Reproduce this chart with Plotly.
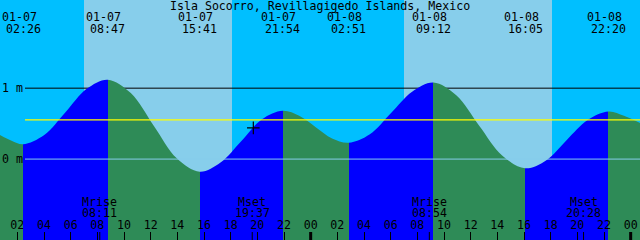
import plotly.graph_objects as go

# ---------------- data ----------------
title_text = "Isla Socorro, Revillagigedo Islands, Mexico"

# tide curve samples (hours since 01-07 00:00, metres)
tide_hours = [0.70, 1.57, 2.43, 4.02, 5.61, 7.20, 8.78, 10.51, 12.23, 13.96, 15.68,
              17.24, 18.79, 20.35, 21.90, 23.14, 24.38, 25.61, 26.85, 28.44, 30.03,
              31.61, 33.20, 34.92, 36.64, 38.36, 40.08, 41.65, 43.21, 44.77, 46.33,
              47.50, 48.70]
tide_levels = [0.34, 0.26, 0.21, 0.34, 0.66, 0.99, 1.12, 0.93, 0.47, 0.01, -0.18,
               -0.05, 0.25, 0.56, 0.68, 0.61, 0.45, 0.29, 0.23, 0.35, 0.65,
               0.95, 1.08, 0.90, 0.47, 0.05, -0.13, -0.02, 0.27, 0.55, 0.67,
               0.61, 0.51]

# high / low events
event_days = [0, 0, 0, 0, 1, 1, 1, 1]
event_dates = ["01-07", "01-07", "01-07", "01-07", "01-08", "01-08", "01-08", "01-08"]
event_times = ["02:26", "08:47", "15:41", "21:54", "02:51", "09:12", "16:05", "22:20"]
event_kind = ["low", "high", "low", "high", "low", "high", "low", "high"]

# moon rise / set
moon_days = [0, 0, 1, 1]
moon_names = ["Mrise", "Mset", "Mrise", "Mset"]
moon_times = ["08:11", "19:37", "08:54", "20:28"]

# daylight (hours since 01-07 00:00)
sunrise_hours = [7.0, 31.0]
sunset_hours = [18.1, 42.1]

# reference levels
level_lines = [1.0, 0.0]
level_labels = ["1 m", "0 m"]
mean_level = 0.553

# current time marker
now_hours = [19.70]
now_level = [0.44]

# axis ticks
tick_hours = list(range(2, 49, 2))
tick_labels = ["02", "04", "06", "08", "10", "12", "14", "16", "18", "20", "22", "00",
               "02", "04", "06", "08", "10", "12", "14", "16", "18", "20", "22", "00"]
midnight_hours = [24, 48]

# ---------------- styling ----------------
W, H = 640, 240
X0, X1 = 0.7, 48.7
Y0, Y1 = -1.141, 2.243
FONT = "DejaVu Sans Mono"
FS = 11.6
NIGHT = "#00BFFF"
DAY = "#87CEEB"
FLOOD = "#0000FF"
EBB = "#2E8B57"


def to_h(day, hhmm):
    h, m = hhmm.split(":")
    return 24 * day + int(h) + int(m) / 60.0


def py(ypx):
    return 1 - ypx / H


ev_h = [to_h(d, t) for d, t in zip(event_days, event_times)]
moon_h = [to_h(d, t) for d, t in zip(moon_days, moon_times)]

# horizontal colour stops: blue while rising, green while falling
bounds = [X0] + ev_h + [X1]
cs = []
for i in range(len(bounds) - 1):
    if i < len(event_kind):
        col = FLOOD if event_kind[i] == "high" else EBB
    else:
        col = FLOOD if event_kind[-1] == "low" else EBB
    a = (bounds[i] - X0) / (X1 - X0)
    b = (bounds[i + 1] - X0) / (X1 - X0)
    cs.append([max(0.0, min(1.0, a)), col])
    cs.append([max(0.0, min(1.0, b)), col])
cs[0][0] = 0.0
cs[-1][0] = 1.0

fig = go.Figure()
fig.add_trace(go.Scatter(x=[X0 - 1, X1 + 1], y=[Y0 - 1, Y0 - 1], mode="lines",
                         line=dict(width=0), hoverinfo="skip", showlegend=False))
fig.add_trace(go.Scatter(x=tide_hours, y=tide_levels, mode="lines",
                         line=dict(width=0, shape="spline", smoothing=1),
                         fill="tonexty",
                         fillgradient=dict(type="horizontal", start=X0, stop=X1,
                                           colorscale=cs),
                         hoverinfo="skip", showlegend=False))
fig.add_trace(go.Scatter(x=now_hours, y=now_level, mode="markers",
                         marker=dict(symbol="cross-thin", size=9,
                                     line=dict(width=1.2, color="black")),
                         hoverinfo="skip", showlegend=False))

shapes = []
for a, b in zip(sunrise_hours, sunset_hours):
    shapes.append(dict(type="rect", xref="x", yref="paper", x0=a, x1=b, y0=0, y1=1,
                       fillcolor=DAY, line=dict(width=0), layer="below"))
line_x0 = X0 + 25 / (W / (X1 - X0))
shapes.append(dict(type="line", xref="x", yref="y", x0=line_x0, x1=X1,
                   y0=level_lines[0], y1=level_lines[0],
                   line=dict(color="black", width=1), layer="below"))
shapes.append(dict(type="line", xref="x", yref="y", x0=line_x0, x1=X1,
                   y0=level_lines[1], y1=level_lines[1],
                   line=dict(color=DAY, width=1), layer="above"))
shapes.append(dict(type="line", xref="x", yref="y", x0=line_x0, x1=X1,
                   y0=mean_level, y1=mean_level,
                   line=dict(color="yellow", width=1.3), layer="above"))
for m in midnight_hours:
    shapes.append(dict(type="line", xref="x", yref="paper", x0=m, x1=m,
                       y0=0, y1=8 / H, line=dict(color="black", width=3)))
for m in moon_h:
    shapes.append(dict(type="line", xref="x", yref="paper", x0=m, x1=m,
                       y0=0, y1=8 / H, line=dict(color="black", width=1)))

ann = []


def txt(x, y, s, xref="x", xanchor="center", xshift=0):
    ann.append(dict(x=x, y=y, xref=xref, yref="paper", text=s, showarrow=False,
                    xanchor=xanchor, yanchor="middle", xshift=xshift,
                    font=dict(family=FONT, size=FS, color="black")))


txt(0.5, py(5.5), title_text, xref="paper")
for h, d, t in zip(ev_h, event_dates, event_times):
    txt(h, py(17.5), d, xshift=-4)
    txt(h, py(29.2), t)
for h, n, t in zip(moon_h, moon_names, moon_times):
    txt(h, py(202), n)
    txt(h, py(213.3), t)
for lv, lb in zip(level_lines, level_labels):
    ann.append(dict(x=0, y=lv, xref="paper", yref="y", text=lb, showarrow=False,
                    xanchor="left", yanchor="middle",
                    font=dict(family=FONT, size=FS, color="black")))

fig.update_layout(
    width=W, height=H, margin=dict(l=0, r=0, t=0, b=0),
    plot_bgcolor=NIGHT, paper_bgcolor=NIGHT,
    shapes=shapes, annotations=ann, showlegend=False,
    xaxis=dict(range=[X0, X1], showgrid=False, zeroline=False, showline=False,
               tickmode="array", tickvals=tick_hours, ticktext=tick_labels,
               ticks="inside", ticklen=8, tickwidth=1, tickcolor="black",
               ticklabelposition="inside",
               tickfont=dict(family=FONT, size=FS, color="black"), fixedrange=True),
    yaxis=dict(range=[Y0, Y1], showgrid=False, zeroline=False, showline=False,
               showticklabels=False, ticks="", fixedrange=True),
)

fig.write_html("out.html", config={"displayModeBar": False})
